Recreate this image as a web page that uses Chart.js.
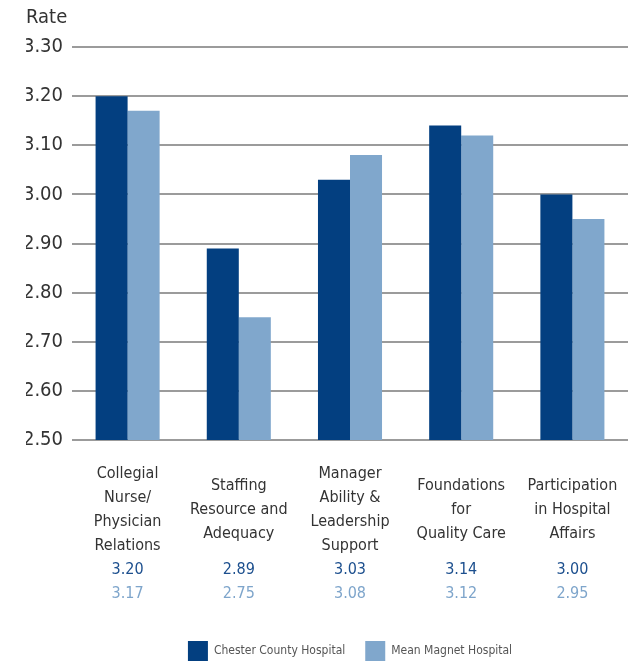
<!DOCTYPE html>
<html>
<head>
<meta charset="utf-8">
<title>Rate</title>
<script src="https://cdn.jsdelivr.net/npm/chart.js@4.4.1/dist/chart.umd.min.js"></script>
<style>
  html, body { margin: 0; padding: 0; background: #fff; }
  #wrap { width: 634px; height: 662px; position: relative; }
</style>
</head>
<body>
<div id="wrap"><canvas id="rateChart"></canvas></div>
<script>
// Survey dimensions (multi-line labels) and the two series
const categories = [
  ['Collegial', 'Nurse/', 'Physician', 'Relations'],
  ['Staffing', 'Resource and', 'Adequacy'],
  ['Manager', 'Ability &', 'Leadership', 'Support'],
  ['Foundations', 'for', 'Quality Care'],
  ['Participation', 'in Hospital', 'Affairs']
];
const seriesNames = ['Chester County Hospital', 'Mean Magnet Hospital'];
const chesterValues = [3.20, 2.89, 3.03, 3.14, 3.00];
const magnetValues = [3.17, 2.75, 3.08, 3.12, 2.95];
const yMin = 2.5;
const yMax = 3.3;
const yStep = 0.1;

const FONT = '"Liberation Sans Narrow", "DejaVu Sans Condensed", "Roboto", sans-serif';
const DARK = '#033f80';
const LIGHT = '#80a7cc';

// horizontal axes: fixed height, no extra side padding from wide labels
function fixHeight(h) {
  return scale => {
    scale.height = h;
    scale.paddingLeft = 0;
    scale.paddingRight = 0;
  };
}

// value rows under the category labels, each on its own category axis
function valueAxis(values, color, weight, height) {
  return {
    type: 'category',
    position: 'bottom',
    labels: values.map(v => v.toFixed(2)),
    offset: true,
    weight: weight,
    grid: { display: false, drawTicks: false },
    border: { display: false },
    afterFit: fixHeight(height),
    ticks: {
      color: color,
      font: { family: FONT, size: 16, lineHeight: 1.5 },
      padding: 0,
      maxRotation: 0,
      autoSkip: false
    }
  };
}

new Chart(document.getElementById('rateChart'), {
  type: 'bar',
  data: {
    labels: categories,
    datasets: [
      { label: seriesNames[0], data: chesterValues, backgroundColor: DARK },
      { label: seriesNames[1], data: magnetValues, backgroundColor: LIGHT }
    ]
  },
  options: {
    responsive: true,
    maintainAspectRatio: false,
    animation: false,
    categoryPercentage: 0.576,
    barPercentage: 1.0,
    layout: { padding: { top: 6, left: 26, right: 6, bottom: -9 } },
    scales: {
      x: {
        weight: 0,
        grid: { display: false, drawTicks: false },
        border: { display: false },
        afterFit: fixHeight(118),
        ticks: {
          color: '#333',
          font: { family: FONT, size: 16, lineHeight: 1.5 },
          crossAlign: 'center',
          padding: 34,
          maxRotation: 0,
          autoSkip: false
        }
      },
      xa: valueAxis(chesterValues, '#1c4f8e', 1, 24),
      xb: valueAxis(magnetValues, '#7ea5cb', 2, 39),
      y: {
        min: yMin,
        max: yMax,
        grid: { color: '#9b9b9b', lineWidth: 2, drawTicks: false },
        border: { display: false },
        afterFit: scale => { scale.width = 46; },
        ticks: {
          stepSize: yStep,
          color: '#333',
          padding: 9,
          font: { family: FONT, size: 20 },
          callback: v => v.toFixed(2)
        }
      }
    },
    plugins: {
      title: {
        display: true,
        text: 'Rate',
        align: 'start',
        color: '#333',
        font: { family: FONT, size: 20, weight: 'normal' },
        padding: { top: 0, bottom: 17 }
      },
      legend: {
        position: 'bottom',
        fullSize: false,
        labels: {
          boxWidth: 20,
          boxHeight: 20,
          padding: 20,
          color: '#555',
          font: { family: FONT, size: 12 }
        }
      },
      tooltip: { enabled: false }
    }
  }
});
</script>
</body>
</html>
